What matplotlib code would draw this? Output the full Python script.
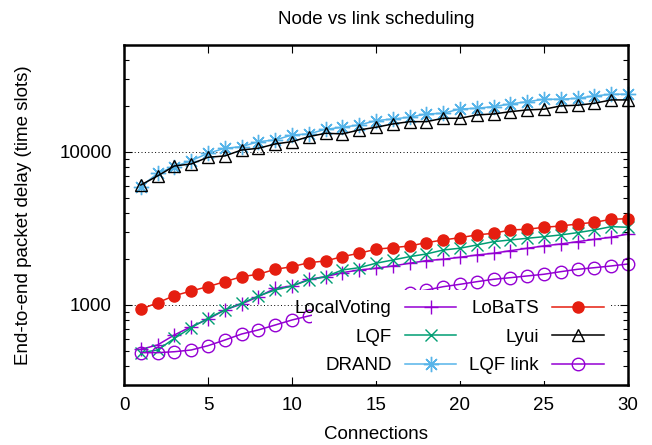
import matplotlib
matplotlib.use("Agg")
import matplotlib.pyplot as plt
from matplotlib.patches import Rectangle
from matplotlib.ticker import LogLocator, FixedLocator, NullFormatter

plt.rcParams['font.family'] = ['Liberation Sans', 'DejaVu Sans']

connections = list(range(1, 31))

local_voting = [513, 548, 637, 722, 807, 928, 1015, 1133, 1285, 1331,
                1472, 1531, 1626, 1694, 1738, 1799, 1874, 1949, 1990, 2050,
                2122, 2178, 2264, 2348, 2432, 2505, 2593, 2687, 2770, 2911]
lqf = [488, 508, 605, 711, 819, 927, 1026, 1145, 1253, 1331,
       1457, 1531, 1694, 1753, 1874, 1968, 2070, 2155, 2287, 2350,
       2467, 2593, 2660, 2729, 2794, 2870, 2970, 3093, 3251, 3220]
drand = [5930, 7260, 8020, 8770, 9800, 10570, 10830, 11680, 11980, 12910,
         13120, 14070, 14500, 15010, 16020, 16430, 16870, 17710, 17900, 19100,
         19300, 19800, 20600, 21300, 22100, 22100, 22440, 23230, 23830, 23830]
lobats = [937, 1035, 1150, 1235, 1318, 1420, 1531, 1588, 1711, 1779,
          1890, 1940, 2070, 2180, 2313, 2370, 2430, 2555, 2660, 2754,
          2870, 2943, 3093, 3125, 3220, 3283, 3383, 3470, 3630, 3665]
lyui = [6085, 6970, 8100, 8350, 9230, 9420, 10300, 10570, 11280, 11680,
        12590, 13250, 13120, 13930, 14500, 15240, 15780, 15780, 16600, 16600,
        17450, 17710, 18340, 18830, 19020, 20000, 20200, 20800, 21880, 21880]
lqf_link = [488, 488, 495, 508, 542, 590, 646, 687, 740, 798,
            848, 899, 953, 1010, 1071, 1135, 1203, 1253, 1317, 1365,
            1420, 1472, 1508, 1548, 1588, 1651, 1711, 1753, 1799, 1853]

x_ticks = [0, 5, 10, 15, 20, 25, 30]
y_major = [1000, 10000]

FS = 13.5
fig = plt.figure(figsize=(6.52, 4.45), dpi=100)
ax = fig.add_axes([124/652, 1-385/445, 504/652, 340/445])

violet = '#9400d3'
lw = 1.1
common = dict(lw=lw, mew=1.0, clip_on=False)
ax.plot(connections, local_voting, color=violet, marker='+', ms=10, label='LocalVoting', **common)
ax.plot(connections, lqf, color='#009e73', marker='x', ms=8.5, label='LQF', **common)
ax.plot(connections, drand, color='#56b4e9', marker=(8, 2, 0), ms=11, label='DRAND', **common)
ax.plot(connections, lobats, color='#e51e10', marker='o', ms=8, label='LoBaTS', **common)
ax.plot(connections, lyui, color='black', marker='^', ms=8.5, mfc='none', label='Lyui', **common)
ax.plot(connections, lqf_link, color=violet, marker='o', ms=9, mfc='none', label='LQF link', **common)

ax.set_yscale('log')
ax.set_xlim(0, 30)
ax.set_ylim(300, 50000)
ax.xaxis.set_major_locator(FixedLocator(x_ticks))
ax.set_xticklabels([str(v) for v in x_ticks])
ax.yaxis.set_major_locator(FixedLocator(y_major))
ax.set_yticklabels([str(v) for v in y_major])
ax.yaxis.set_minor_locator(LogLocator(base=10, subs=range(2, 10)))
ax.yaxis.set_minor_formatter(NullFormatter())

ax.tick_params(which='both', direction='in', top=True, right=True, labelsize=FS, pad=9)
ax.tick_params(which='major', length=6, width=0.8)
ax.tick_params(which='minor', length=3.5, width=0.8)
for s in ax.spines.values():
    s.set_linewidth(1.8)

ax.grid(True, which='major', axis='y', color='black', linestyle=(0, (1, 2.5)), linewidth=0.7)
ax.set_axisbelow(True)

ax.set_title('Node vs link scheduling', fontsize=FS, pad=15)
ax.set_xlabel('Connections', fontsize=FS)
ax.xaxis.set_label_coords(0.5, -0.12)
ax.set_ylabel('End-to-end packet delay (time slots)', fontsize=FS)
ax.yaxis.set_label_coords(-0.182, 0.5)

# opaque key box (gnuplot style: text may overflow the box on the left)
ax.add_patch(Rectangle((0.373, 0.012), 0.59, 0.268, transform=ax.transAxes,
                       facecolor='white', edgecolor='none', zorder=3))

leg = ax.legend(ncol=2, loc='lower right', bbox_to_anchor=(0.952, 0.032), borderaxespad=0,
                markerfirst=False, fontsize=FS, handlelength=2.75, handletextpad=0.7,
                columnspacing=0.7, labelspacing=0.6, borderpad=0.0,
                frameon=False)
leg.set_zorder(5)

fig.savefig('out.png', dpi=100)
